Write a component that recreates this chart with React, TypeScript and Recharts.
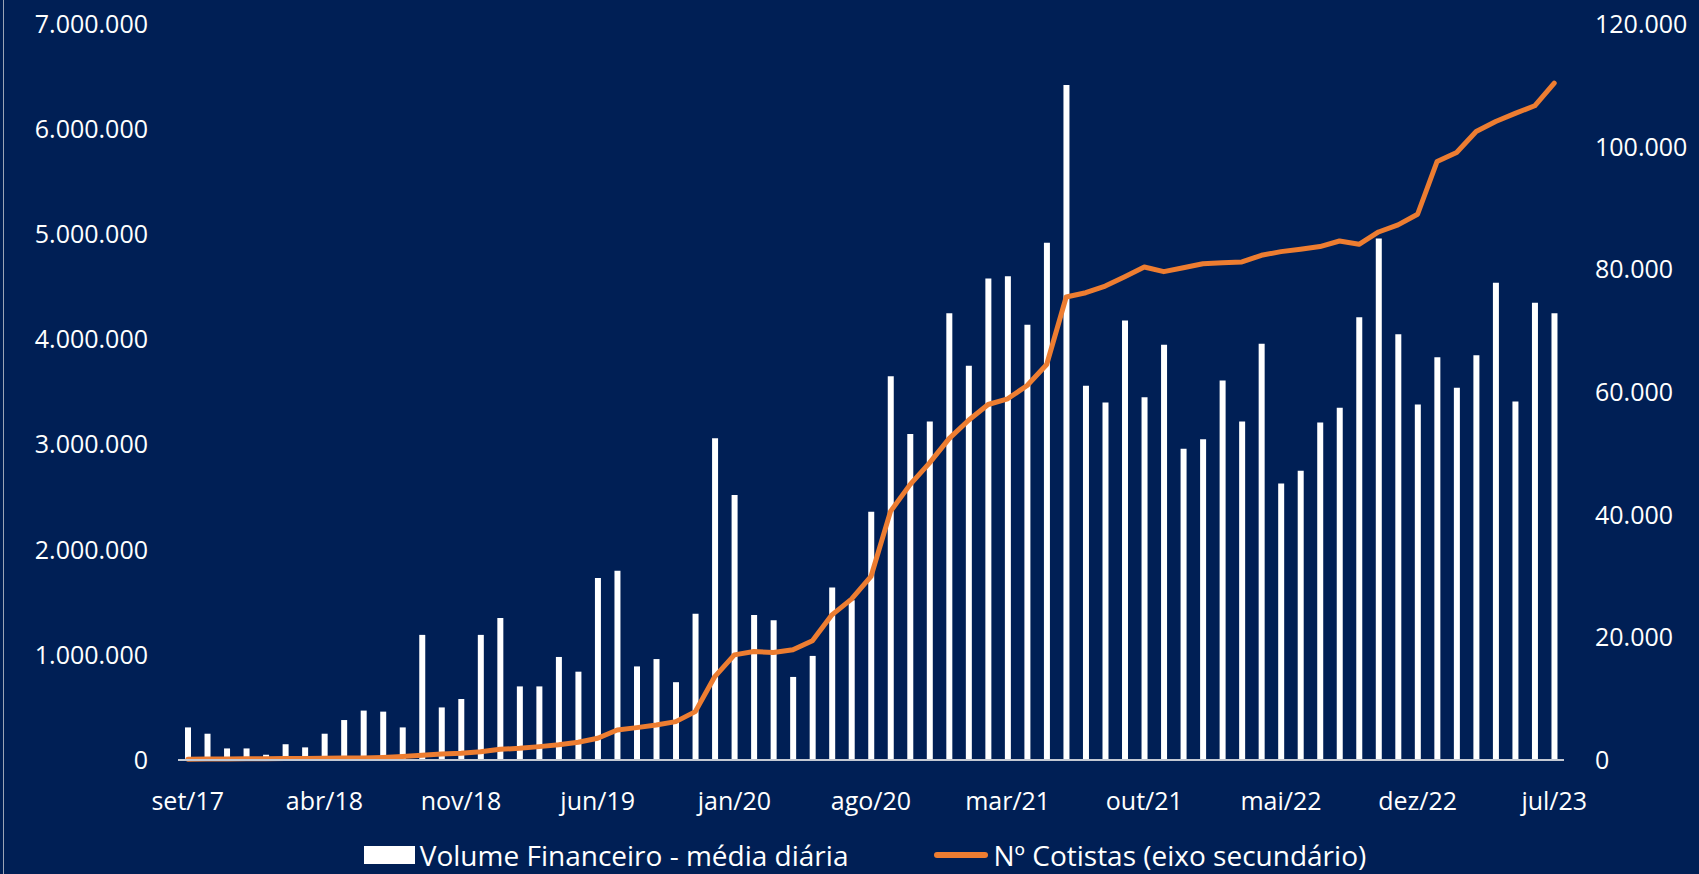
import React from "react";
import { ComposedChart, Bar, Line, XAxis, YAxis, Legend } from "recharts";

const months = [
  "set/17", "out/17", "nov/17", "dez/17",
  "jan/18", "fev/18", "mar/18", "abr/18", "mai/18", "jun/18", "jul/18", "ago/18", "set/18", "out/18", "nov/18", "dez/18",
  "jan/19", "fev/19", "mar/19", "abr/19", "mai/19", "jun/19", "jul/19", "ago/19", "set/19", "out/19", "nov/19", "dez/19",
  "jan/20", "fev/20", "mar/20", "abr/20", "mai/20", "jun/20", "jul/20", "ago/20", "set/20", "out/20", "nov/20", "dez/20",
  "jan/21", "fev/21", "mar/21", "abr/21", "mai/21", "jun/21", "jul/21", "ago/21", "set/21", "out/21", "nov/21", "dez/21",
  "jan/22", "fev/22", "mar/22", "abr/22", "mai/22", "jun/22", "jul/22", "ago/22", "set/22", "out/22", "nov/22", "dez/22",
  "jan/23", "fev/23", "mar/23", "abr/23", "mai/23", "jun/23", "jul/23",
];

// volume financeiro - média diária (R$)
const volume = [
  310000, 250000, 110000, 110000,
  50000, 150000, 120000, 250000, 380000, 470000, 460000, 310000, 1190000, 500000, 580000, 1190000,
  1350000, 700000, 700000, 980000, 840000, 1730000, 1800000, 890000, 960000, 740000, 1390000, 3060000,
  2520000, 1380000, 1330000, 790000, 990000, 1640000, 1520000, 2360000, 3650000, 3100000, 3220000, 4250000,
  3750000, 4580000, 4600000, 4140000, 4920000, 6420000, 3560000, 3400000, 4180000, 3450000, 3950000, 2960000,
  3050000, 3610000, 3220000, 3960000, 2630000, 2750000, 3210000, 3350000, 4210000, 4960000, 4050000, 3380000,
  3830000, 3540000, 3850000, 4540000, 3410000, 4350000, 4250000,
];

// nº de cotistas (eixo secundário)
const cotistas = [
  120, 150, 170, 190,
  200, 230, 250, 280, 310, 340, 420, 560, 760, 980, 1090, 1360,
  1740, 1900, 2180, 2500, 2900, 3540, 4900, 5280, 5710, 6260, 7890, 13600,
  17140, 17690, 17520, 17960, 19430, 23670, 26230, 29930, 40540, 44900, 48440, 52400,
  55400, 57960, 58890, 61060, 64490, 75480, 76190, 77280, 78800, 80380, 79620, 80270,
  80920, 81090, 81200, 82290, 82890, 83270, 83710, 84620, 84080, 86090, 87240, 88980,
  97590, 99050, 102480, 104110, 105420, 106670, 110370,
];

const leftTicks = [0, 1000000, 2000000, 3000000, 4000000, 5000000, 6000000, 7000000];
const rightTicks = [0, 20000, 40000, 60000, 80000, 100000, 120000];

const data = months.map((m, i) => ({ month: m, volume: volume[i], cotistas: cotistas[i] }));

const BG = "#001f55";
const ORANGE = "#ED7D31";
const FONT = "'Open Sans', sans-serif";

const fmt = (v: number) => String(v).replace(/\B(?=(\d{3})+(?!\d))/g, ".");

const tickStyle = { fill: "#ffffff", fontSize: 25, fontFamily: FONT };

const LegendContent = (props: any) => {
  // bars first, then the line
  const items = [...(props.payload || [])].sort((a: any, b: any) => (a.type === "line" ? 1 : 0) - (b.type === "line" ? 1 : 0));
  return (
    <div style={{ display: "flex", justifyContent: "center", alignItems: "center", gap: 86, fontFamily: FONT, fontSize: 28, lineHeight: "30px", color: "#fff" }}>
      {items.map((it: any) => (
        <div key={it.value} style={{ display: "flex", alignItems: "center" }}>
          {it.type === "line" ? (
            <div style={{ width: 54, height: 6, borderRadius: 3, background: it.color, marginRight: 5 }} />
          ) : (
            <div style={{ width: 51, height: 18, background: it.color, marginRight: 5 }} />
          )}
          <span style={{ whiteSpace: "nowrap" }}>{it.value}</span>
        </div>
      ))}
    </div>
  );
};

export default function App() {
  return (
    <div style={{ position: "absolute", left: 0, top: 0, width: 1699, height: 874, background: BG, fontFamily: FONT, overflow: "hidden" }}>
      <div style={{ position: "absolute", left: 3, top: 0, width: 1, height: 874, background: "#9aa3b5" }} />
      <ComposedChart width={1699} height={874} data={data} margin={{ top: 24, right: 0, bottom: 0, left: 0 }}>
        <XAxis
          dataKey="month"
          interval={6}
          height={114}
          tickLine={false}
          tickSize={0}
          tickMargin={32}
          axisLine={{ stroke: "#c3c8d2", strokeWidth: 2 }}
          tick={tickStyle}
        />
        <YAxis
          yAxisId="left"
          width={178}
          domain={[0, 7000000]}
          ticks={leftTicks}
          axisLine={false}
          tickLine={false}
          tickSize={0}
          tickMargin={30}
          tickFormatter={fmt}
          tick={tickStyle}
        />
        <YAxis
          yAxisId="right"
          orientation="right"
          width={135}
          domain={[0, 120000]}
          ticks={rightTicks}
          axisLine={false}
          tickLine={false}
          tickSize={0}
          tickMargin={31}
          tickFormatter={fmt}
          tick={tickStyle}
        />
        <Bar yAxisId="left" dataKey="volume" name="Volume Financeiro - média diária" fill="#ffffff" barSize={6} isAnimationActive={false} />
        <Line
          yAxisId="right"
          type="linear"
          dataKey="cotistas"
          name="Nº Cotistas (eixo secundário)"
          stroke={ORANGE}
          strokeWidth={5}
          strokeLinejoin="round"
          strokeLinecap="round"
          dot={false}
          activeDot={false}
          isAnimationActive={false}
        />
        <Legend
          layout="horizontal"
          verticalAlign="middle"
          align="center"
          content={<LegendContent />}
          wrapperStyle={{ top: 840, left: 172, width: 1386 }}
        />
      </ComposedChart>
    </div>
  );
}
